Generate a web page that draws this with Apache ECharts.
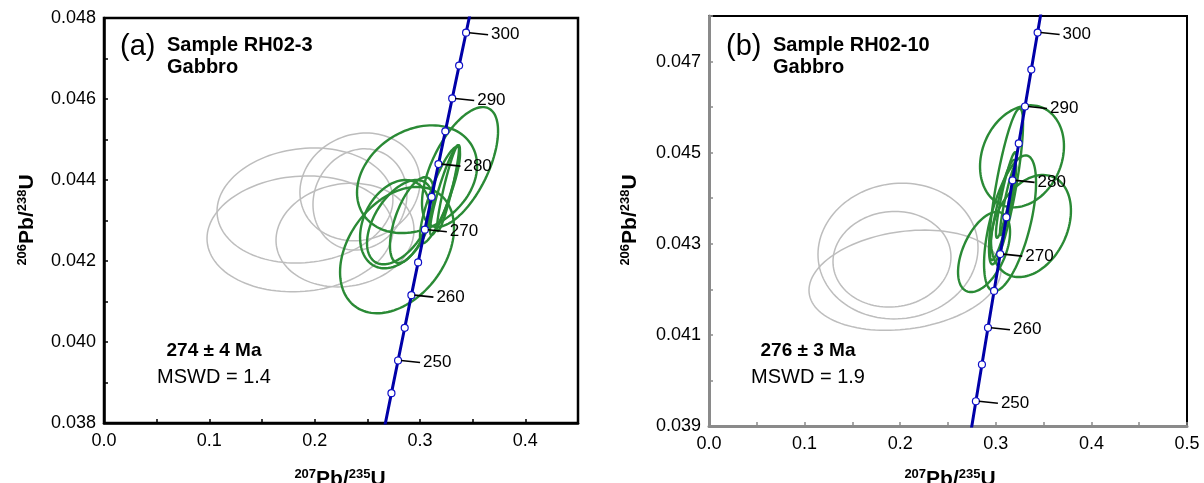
<!DOCTYPE html>
<html>
<head>
<meta charset="utf-8">
<script src="https://cdn.jsdelivr.net/npm/echarts@6/dist/echarts.min.js"></script>
<style>
  html, body { margin: 0; padding: 0; background: #fff; }
  #chart { width: 1204px; height: 483px; }
</style>
</head>
<body>
<div id="chart"></div>
<script>
const FONT = '"Liberation Sans", Arial, Helvetica, sans-serif';

// Wetherill concordia, 5 Ma steps
const concordiaAge = [235, 240, 245, 250, 255, 260, 265, 270, 275, 280, 285, 290, 295, 300, 305];
const concordiaX = [0.26041, 0.26664, 0.27289, 0.27917, 0.28549, 0.29183, 0.29821, 0.30462,
                    0.31106, 0.31753, 0.32403, 0.33057, 0.33714, 0.34374, 0.35037];
const concordiaY = [0.037126, 0.037932, 0.038737, 0.039543, 0.040350, 0.041157, 0.041965, 0.042773,
                    0.043582, 0.044392, 0.045202, 0.046013, 0.046825, 0.047637, 0.048450];
const labelledAges = [250, 260, 270, 280, 290, 300];

// Error ellipses: [207Pb/235U, ±, 206Pb/238U, ±, rho]
// RH02-3, rejected analyses
const rejectedA = [
  [0.1861, 0.0883, 0.04267, 0.00143, 0.08],
  [0.1908, 0.0835, 0.04337, 0.00142, 0.10],
  [0.2288, 0.0655, 0.04264, 0.00128, 0.10],
  [0.2430, 0.0570, 0.04383, 0.00133, 0.10],
  [0.2430, 0.0446, 0.04352, 0.00125, 0.10]
];
// RH02-3, analyses used in the age
const acceptedA = [
  [0.2782, 0.0541, 0.04227, 0.00156, 0.35],
  [0.2972, 0.0570, 0.04402, 0.00133, 0.25],
  [0.3380, 0.0361, 0.04432, 0.00148, 0.60],
  [0.2763, 0.0332, 0.04291, 0.00109, 0.30],
  [0.2810, 0.0313, 0.04296, 0.00104, 0.50],
  [0.2924, 0.0209, 0.04301, 0.00106, 0.60],
  [0.3237, 0.0142, 0.04375, 0.00111, 0.90],
  [0.3266, 0.0104, 0.04380, 0.00106, 0.92],
  [0.3190, 0.0190, 0.04363, 0.00119, 0.85]
];
// RH02-10, rejected analyses
const rejectedB = [
  [0.1977, 0.0837, 0.04284, 0.00149, 0.05],
  [0.1914, 0.0617, 0.04266, 0.00105, 0.05],
  [0.2050, 0.1004, 0.04220, 0.00110, 0.20]
];
// RH02-10, analyses used in the age
const acceptedB = [
  [0.3274, 0.0439, 0.04492, 0.00112, 0.20],
  [0.3368, 0.0418, 0.04339, 0.00112, 0.30],
  [0.2877, 0.0272, 0.04282, 0.00088, 0.50],
  [0.3149, 0.0272, 0.04345, 0.00149, 0.60],
  [0.3107, 0.0178, 0.04426, 0.00171, 0.80],
  [0.3107, 0.0105, 0.04407, 0.00094, 0.90],
  [0.3075, 0.0136, 0.04374, 0.00110, 0.85],
  [0.3128, 0.0084, 0.04396, 0.00077, 0.92]
];

const panels = [
  { tag: '(a)', sample: 'Sample RH02-3', rock: 'Gabbro', age: '274 ± 4 Ma', mswd: 'MSWD = 1.4',
    xMax: 0.45, yMin: 0.038, yMax: 0.048, rejected: rejectedA, accepted: acceptedA },
  { tag: '(b)', sample: 'Sample RH02-10', rock: 'Gabbro', age: '276 ± 3 Ma', mswd: 'MSWD = 1.9',
    xMax: 0.5, yMin: 0.039, yMax: 0.048, rejected: rejectedB, accepted: acceptedB }
];

const GREEN = '#2a8a35';
const GRAY = '#bdbdbd';
const BLUE = '#0000a8';

function ellipseSeries(data, idx, color, width, z) {
  return {
    type: 'custom', xAxisIndex: idx, yAxisIndex: idx, z: z, silent: true,
    data: data, encode: { x: 0, y: 2 },
    renderItem: function (params, api) {
      const cx = api.value(0), sx = api.value(1), cy = api.value(2), sy = api.value(3), r = api.value(4);
      const k = Math.sqrt(1 - r * r);
      const pts = [];
      const n = 120;
      for (let i = 0; i < n; i++) {
        const t = i / n * Math.PI * 2;
        pts.push(api.coord([cx + sx * Math.cos(t), cy + sy * (r * Math.cos(t) + k * Math.sin(t))]));
      }
      return { type: 'polygon', shape: { points: pts },
               style: { fill: 'none', stroke: color, lineWidth: width } };
    }
  };
}

function concordiaSeries(idx, p) {
  const line = concordiaX.map((x, i) => [x, concordiaY[i]]);
  const dots = line.filter(d => d[1] >= p.yMin && d[1] <= p.yMax);
  const tags = labelledAges.map(a => {
    const i = concordiaAge.indexOf(a);
    return [concordiaX[i], concordiaY[i], a];
  });
  return [
    { type: 'line', xAxisIndex: idx, yAxisIndex: idx, z: 3, silent: true, clip: true,
      data: line, showSymbol: false, smooth: false,
      lineStyle: { color: BLUE, width: 3 } },
    { type: 'scatter', xAxisIndex: idx, yAxisIndex: idx, z: 4, silent: true,
      data: dots, symbol: 'circle', symbolSize: 7,
      itemStyle: { color: '#fff', borderColor: '#1010c8', borderWidth: 1.2, opacity: 1 } },
    { type: 'custom', xAxisIndex: idx, yAxisIndex: idx, z: 5, silent: true,
      data: tags, encode: { x: 0, y: 1 },
      renderItem: function (params, api) {
        const c = api.coord([api.value(0), api.value(1)]);
        return { type: 'group', children: [
          { type: 'line', shape: { x1: c[0] + 3, y1: c[1], x2: c[0] + 22, y2: c[1] + 2 },
            style: { stroke: '#000', lineWidth: 1.6 } },
          { type: 'text', x: c[0] + 25, y: c[1] + 2,
            style: { text: String(api.value(2)), fill: '#000', fontSize: 17, fontFamily: FONT,
                     align: 'left', verticalAlign: 'middle' } }
        ] };
      } }
  ];
}

const grids = [
  { left: 104, top: 18, width: 474, height: 405, show: true, borderColor: '#000', borderWidth: 2.5,
    backgroundColor: 'transparent' },
  { left: 709, top: 16, width: 478, height: 410, show: true, borderColor: '#000', borderWidth: 2,
    backgroundColor: 'transparent' }
];

const axisLineColor = ['#000', '#8a8a8a'];
const axisLineWidth = [2.5, 3];

const xAxes = panels.map((p, i) => ({
  type: 'value', gridIndex: i, min: 0, max: p.xMax, interval: 0.05,
  axisLine: { show: true, onZero: false, lineStyle: { color: axisLineColor[i], width: axisLineWidth[i] } },
  axisTick: { show: true, inside: true, length: 4, lineStyle: { color: axisLineColor[i], width: 1.5 } },
  splitLine: { show: false },
  axisLabel: { show: true, margin: 9, color: '#000', fontSize: 18, fontFamily: FONT,
    formatter: v => (Math.round(v * 100) % 10 === 0 ? v.toFixed(1) : '') }
}));

const yAxes = panels.map((p, i) => ({
  type: 'value', gridIndex: i, min: p.yMin, max: p.yMax, interval: 0.001,
  axisLine: { show: true, onZero: false, lineStyle: { color: axisLineColor[i], width: axisLineWidth[i] } },
  axisTick: { show: true, inside: true, length: 4, lineStyle: { color: axisLineColor[i], width: 1.5 } },
  splitLine: { show: false },
  axisLabel: { show: true, margin: 8, color: '#000', fontSize: 18, fontFamily: FONT,
    formatter: v => {
      const m = Math.round(v * 1000);
      const want = i === 0 ? 0 : 1;
      return (m % 2 === want) ? v.toFixed(3) : '';
    } }
}));

const rich = {
  s: { fontSize: 13, fontWeight: 'bold', fontFamily: FONT, verticalAlign: 'top', lineHeight: 12, fill: '#000' },
  b: { fontSize: 21, fontWeight: 'bold', fontFamily: FONT, lineHeight: 23, fill: '#000' }
};

function txt(x, y, text, size, weight, align) {
  return { type: 'text', x: x, y: y, silent: true, z: 10,
    style: { text: text, fontSize: size, fontWeight: weight, fontFamily: FONT, fill: '#000',
             align: align || 'left', verticalAlign: 'middle' } };
}

const graphics = [];
const tagX = [120, 726], sampleX = [167, 773], statX = [214, 808];
const yTitleX = [27, 630], xTitleX = [340, 950];
panels.forEach((p, i) => {
  graphics.push(txt(tagX[i], 47, p.tag, 29, 'normal'));
  graphics.push(txt(sampleX[i], 45, p.sample, 20, 'bold'));
  graphics.push(txt(sampleX[i], 67, p.rock, 20, 'bold'));
  graphics.push(txt(statX[i], 351, p.age, 19, 'bold', 'center'));
  graphics.push(txt(statX[i], 377, p.mswd, 20, 'normal', 'center'));
  graphics.push({ type: 'text', x: yTitleX[i], y: 220, rotation: Math.PI / 2, silent: true,
    style: { text: '{s|206}{b|Pb/}{s|238}{b|U}', rich: rich, align: 'center', verticalAlign: 'middle' } });
  graphics.push({ type: 'text', x: xTitleX[i], y: 468, silent: true,
    style: { text: '{s|207}{b|Pb/}{s|235}{b|U}', rich: rich, align: 'center', verticalAlign: 'top' } });
});

const series = [];
panels.forEach((p, i) => {
  series.push(ellipseSeries(p.rejected, i, GRAY, 1.5, 1));
  series.push(ellipseSeries(p.accepted, i, GREEN, 2.4, 2));
  concordiaSeries(i, p).forEach(s => series.push(s));
});

const chart = echarts.init(document.getElementById('chart'), null, { renderer: 'canvas' });
chart.setOption({
  animation: false,
  backgroundColor: '#fff',
  grid: grids,
  xAxis: xAxes,
  yAxis: yAxes,
  series: series,
  graphic: graphics
});
</script>
</body>
</html>
